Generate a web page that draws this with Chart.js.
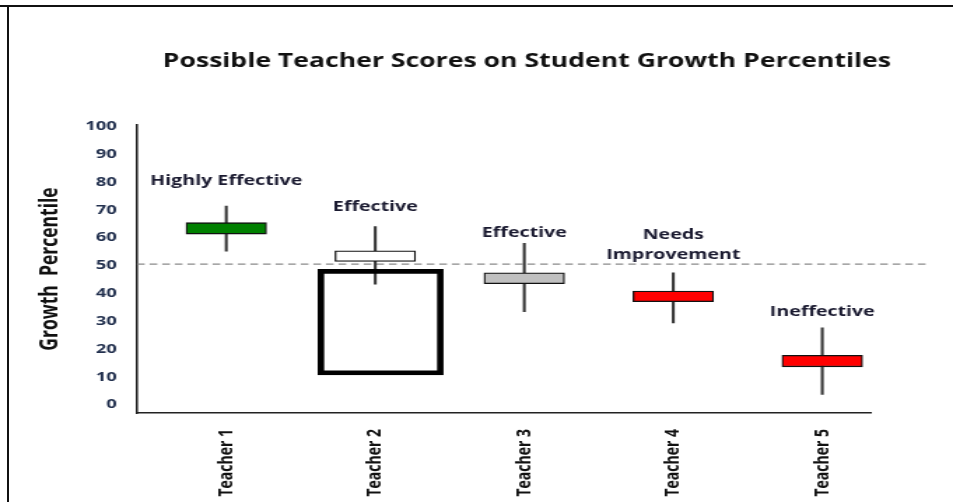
<!DOCTYPE html>
<html>
<head>
<meta charset="utf-8">
<script src="https://cdn.jsdelivr.net/npm/chart.js@4.4.1/dist/chart.umd.min.js"></script>
<style>
  html, body { margin: 0; padding: 0; background: #ffffff; }
  #wrap { position: relative; width: 953px; height: 502px; overflow: hidden; background: #fff; }
  #c { position: absolute; left: 0; top: 0; width: 681px; height: 502px; transform: scaleX(1.3994); transform-origin: 0 0; }
  .frameTop { position: absolute; left: 0; top: 5px; width: 953px; height: 2px; background: #111; }
  .frameLeft { position: absolute; left: 7px; top: 5px; width: 2px; height: 497px; background: #111; }
  .cut { position: absolute; left: 734px; top: -26px; font: 26px "Liberation Serif", serif; color: #111; line-height: 26px; }
</style>
</head>
<body>
<div id="wrap">
  <canvas id="c" width="681" height="502"></canvas>
  <div class="frameTop"></div>
  <div class="frameLeft"></div>
  <span class="cut">g</span>
</div>
<script>
// ---- data ----
const categories   = ['Teacher 1', 'Teacher 2', 'Teacher 3', 'Teacher 4', 'Teacher 5'];
const ratings      = [['Highly Effective'], ['Effective'], ['Effective'], ['Needs', 'Improvement'], ['Ineffective']];
const whiskerLow   = [55.2, 43.3, 33.4, 29.4, 3.7];
const whiskerHigh  = [71.4, 64.0, 58.0, 47.4, 27.6];
const boxLow       = [61.3, 51.5, 43.5, 37.0, 13.6];
const boxHigh      = [65.4, 55.3, 47.4, 40.8, 17.7];
const boxColors    = ['#008000', '#ffffff', '#c0c0c0', '#ff0000', '#ff0000'];
const ratingY      = [80.4, 71.0, 61.7, 57.4, 33.3];
const yTickValues  = [0, 10, 20, 30, 40, 50, 60, 70, 80, 90, 100];
const threshold    = 50.5;
const highlightX   = 2.036;
const highlightLow = 10.7;
const highlightHigh = 48.6;
const chartTitle   = 'Possible Teacher Scores on Student Growth Percentiles';
const yTitle       = 'Growth  Percentile';

const pos = categories.map((_, i) => i + 1);
const FONT = '"Open Sans", Lato, sans-serif';

const titlePlugin = {
  id: 'customTitle',
  afterDraw(chart) {
    const ctx = chart.ctx;
    ctx.save();
    ctx.font = 'bold 19px ' + FONT;
    ctx.fillStyle = '#111111';
    ctx.textAlign = 'center';
    ctx.textBaseline = 'middle';
    ctx.fillText(chartTitle, 376.5, 62);
    ctx.restore();
  }
};

const thresholdPlugin = {
  id: 'threshold',
  beforeDatasetsDraw(chart) {
    const ctx = chart.ctx;
    const y = chart.scales.y.getPixelForValue(threshold);
    ctx.save();
    ctx.strokeStyle = '#8a8a8a';
    ctx.lineWidth = 1.3;
    ctx.setLineDash([5.5, 3.5]);
    ctx.beginPath();
    ctx.moveTo(chart.chartArea.left, y);
    ctx.lineTo(chart.chartArea.right + 40, y);
    ctx.stroke();
    ctx.restore();
  }
};

const ratingPlugin = {
  id: 'ratings',
  afterDatasetsDraw(chart) {
    const ctx = chart.ctx;
    const xs = chart.scales.x, ys = chart.scales.y;
    ctx.save();
    ctx.font = 'bold 14px ' + FONT;
    ctx.fillStyle = '#1a1a30';
    ctx.textAlign = 'center';
    ctx.textBaseline = 'middle';
    ratings.forEach((lines, i) => {
      const x = xs.getPixelForValue(pos[i]);
      const yc = ys.getPixelForValue(ratingY[i]);
      const lh = 20;
      lines.forEach((t, j) => {
        ctx.fillText(t, x, yc + (j - (lines.length - 1) / 2) * lh);
      });
    });
    ctx.restore();
  }
};

new Chart(document.getElementById('c'), {
  type: 'bar',
  data: {
    datasets: [
      {
        label: 'highlight',
        data: [{ x: highlightX, y: [highlightLow, highlightHigh] }],
        backgroundColor: 'rgba(0,0,0,0)',
        borderColor: '#000000',
        borderWidth: 4,
        borderSkipped: false,
        barThickness: 89.3,
        grouped: false,
        order: 1
      },
      {
        label: 'box',
        data: pos.map((x, i) => ({ x: x, y: [boxLow[i], boxHigh[i]] })),
        backgroundColor: boxColors,
        borderColor: '#111111',
        borderWidth: 1.3,
        borderSkipped: false,
        barThickness: 57.5,
        grouped: false,
        order: 2
      },
      {
        label: 'range',
        data: pos.map((x, i) => ({ x: x, y: [whiskerLow[i], whiskerHigh[i]] })),
        backgroundColor: '#333333',
        borderWidth: 0,
        barThickness: 1.4,
        grouped: false,
        order: 3
      }
    ]
  },
  options: {
    responsive: false,
    devicePixelRatio: 1,
    animation: false,
    layout: { padding: { left: 8, right: 58.6, top: 125, bottom: 0 } },
    plugins: {
      legend: { display: false },
      title: { display: false },
      tooltip: { enabled: false }
    },
    scales: {
      x: {
        type: 'linear',
        offset: false,
        min: 0.401,
        max: 5.327,
        grid: { display: false, drawTicks: false, offset: false },
        border: { display: true, color: '#222222', width: 1.6 },
        afterBuildTicks(scale) { scale.ticks = pos.map(v => ({ value: v })); },
        afterFit(scale) { scale.height = 89; },
        ticks: {
          autoSkip: false,
          minRotation: 90,
          maxRotation: 90,
          padding: 16,
          color: '#111111',
          font: { family: FONT, weight: 'bold', size: 14 },
          callback: (v) => categories[Math.round(v) - 1]
        }
      },
      y: {
        type: 'linear',
        min: -3,
        max: 100.5,
        grid: { display: false, drawTicks: false },
        border: { display: true, color: '#222222', width: 1.6 },
        afterBuildTicks(scale) { scale.ticks = yTickValues.map(v => ({ value: v })); },
        afterFit(scale) { scale.width = 89.9; },
        ticks: {
          padding: 14.5,
          color: '#22304e',
          font: { family: FONT, weight: 'bold', size: 13 }
        },
        title: {
          display: true,
          text: yTitle,
          color: '#111111',
          font: { family: FONT, weight: 'bold', size: 17.5 },
          padding: { top: 18, bottom: 0 }
        }
      }
    }
  },
  plugins: [thresholdPlugin, ratingPlugin, titlePlugin]
});
</script>
</body>
</html>
